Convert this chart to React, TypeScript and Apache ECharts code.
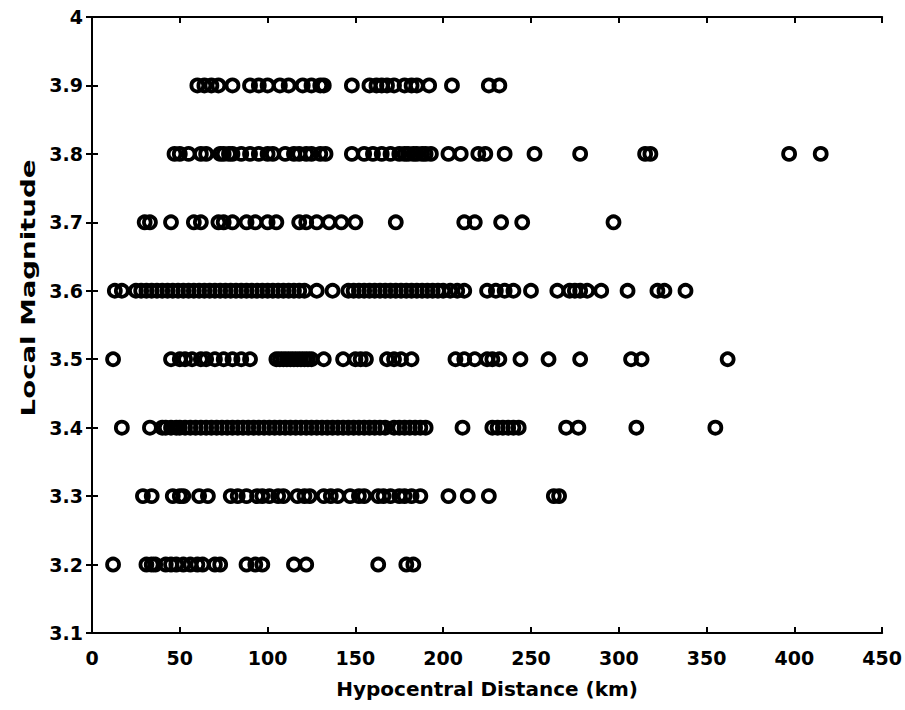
import React, { useEffect, useRef } from "react";
import * as echarts from "echarts";

const xTicks = [0, 50, 100, 150, 200, 250, 300, 350, 400, 450];
const yTicks = [3.1, 3.2, 3.3, 3.4, 3.5, 3.6, 3.7, 3.8, 3.9, 4.0];
const xTitle = "Hypocentral Distance (km)";
const yTitle = "Local Magnitude";

const dist39 = [60, 64, 68, 72, 80, 90, 95, 100, 107, 112, 120, 125, 130, 132, 148, 158, 162, 165, 168, 172, 178, 182, 185, 192, 205, 226, 232];
const dist38 = [47, 50, 55, 62, 65, 73, 75, 78, 80, 85, 90, 95, 100, 103, 110, 115, 118, 122, 125, 130, 133, 148, 155, 160, 165, 170, 175, 178, 180, 183, 185, 188, 190, 193, 203, 210, 220, 224, 235, 252, 278, 315, 318, 397, 415];
const dist37 = [30, 33, 45, 58, 62, 72, 75, 80, 88, 93, 100, 105, 118, 122, 128, 135, 142, 150, 173, 212, 218, 233, 245, 297];
const dist36 = [13, 17, 25, 28, 31, 34, 37, 40, 43, 46, 49, 52, 55, 58, 61, 64, 67, 70, 73, 76, 79, 82, 85, 88, 91, 94, 97, 100, 103, 106, 109, 112, 115, 118, 121, 128, 137, 146, 149, 152, 155, 158, 161, 164, 167, 170, 173, 176, 179, 182, 185, 188, 191, 194, 197, 200, 204, 208, 212, 225, 230, 235, 240, 250, 265, 272, 275, 278, 282, 290, 305, 322, 326, 338];
const dist35 = [12, 45, 50, 53, 57, 62, 65, 70, 75, 80, 85, 90, 105, 107, 109, 111, 113, 115, 117, 119, 121, 123, 125, 132, 143, 150, 153, 156, 168, 172, 176, 182, 207, 212, 218, 225, 228, 232, 244, 260, 278, 307, 313, 362];
const dist34 = [17, 33, 40, 42, 45, 48, 50, 53, 56, 59, 62, 65, 68, 71, 74, 77, 80, 83, 86, 89, 92, 95, 98, 101, 104, 107, 110, 113, 116, 119, 122, 125, 128, 131, 134, 137, 140, 143, 146, 149, 152, 155, 158, 161, 164, 167, 172, 175, 178, 181, 184, 187, 190, 211, 228, 231, 234, 237, 240, 243, 270, 277, 310, 355];
const dist33 = [29, 34, 46, 50, 52, 61, 66, 79, 83, 88, 94, 97, 101, 106, 109, 117, 121, 124, 132, 136, 140, 147, 152, 155, 163, 166, 170, 175, 178, 182, 187, 203, 214, 226, 263, 266];
const dist32 = [12, 31, 34, 36, 42, 45, 48, 52, 56, 60, 63, 70, 73, 88, 93, 97, 115, 122, 163, 179, 183];

const rows: [number, number[]][] = [
  [3.9, dist39],
  [3.8, dist38],
  [3.7, dist37],
  [3.6, dist36],
  [3.5, dist35],
  [3.4, dist34],
  [3.3, dist33],
  [3.2, dist32],
];

export default function App() {
  const ref = useRef<HTMLDivElement>(null);
  useEffect(() => {
    if (!ref.current) return;
    const chart = echarts.init(ref.current, undefined, { renderer: "svg" });
    const data: number[][] = [];
    rows.forEach(([m, ds]) => ds.forEach((d) => data.push([d, m])));
    const font = "'DejaVu Sans', Arial, sans-serif";
    const axisLine = { show: true, lineStyle: { color: "#000", width: 2 } };
    const tick = { show: true, inside: true, length: 6, lineStyle: { color: "#000", width: 2 } };
    chart.setOption({
      animation: false,
      backgroundColor: "#fff",
      grid: { left: 92, right: 22, top: 17, bottom: 77, containLabel: false },
      graphic: [
        {
          type: "text",
          x: 28,
          y: 288,
          rotation: Math.PI / 2,
          scaleX: 1.38,
          style: {
            text: yTitle,
            font: "bold 20px 'DejaVu Sans', Arial, sans-serif",
            fill: "#000",
            textAlign: "center",
            textVerticalAlign: "middle",
          },
        },
      ],
      xAxis: [
        {
          type: "value", min: 0, max: 450, interval: 50, position: "bottom",
          axisLine, axisTick: tick, splitLine: { show: false },
          axisLabel: { color: "#000", fontSize: 19, fontWeight: "bold", fontFamily: font, margin: 15 },
          name: xTitle, nameLocation: "middle", nameGap: 46,
          nameTextStyle: { color: "#000", fontSize: 20, fontWeight: "bold", fontFamily: font },
        },
        {
          type: "value", min: 0, max: 450, interval: 50, position: "top",
          axisLine, axisTick: tick, axisLabel: { show: false }, splitLine: { show: false },
        },
      ],
      yAxis: [
        {
          type: "value", min: 3.1, max: 4.0, interval: 0.1, position: "left",
          axisLine, axisTick: tick, splitLine: { show: false },
          axisLabel: {
            color: "#000", fontSize: 19, fontWeight: "bold", fontFamily: font, margin: 9,
            formatter: (v: number) => {
              const r = Math.round(v * 10) / 10;
              return r === 4 ? "4" : r.toFixed(1);
            },
          },
        },
        {
          type: "value", min: 3.1, max: 4.0, interval: 0.1, position: "right",
          axisLine, axisTick: tick, axisLabel: { show: false }, splitLine: { show: false },
        },
      ],
      series: [
        {
          type: "scatter",
          data,
          symbol: "circle",
          symbolSize: 12,
          itemStyle: { color: "rgba(255,255,255,0)", borderColor: "#000", borderWidth: 3.8, opacity: 1 },
        },
      ],
    });
    return () => chart.dispose();
  }, []);
  return <div ref={ref} style={{ width: 905, height: 710, position: "absolute", left: 0, top: 0 }} />;
}
